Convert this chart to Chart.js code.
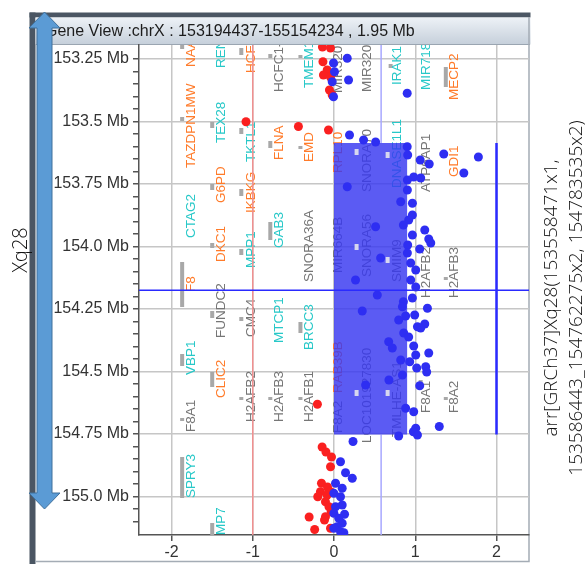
<!DOCTYPE html>
<html>
<head>
<meta charset="utf-8">
<script src="https://cdn.jsdelivr.net/npm/chart.js@4.4.1/dist/chart.umd.min.js"></script>
<style>
  body { margin: 0; background: #fff; }
  canvas { display: block; }
</style>
</head>
<body>
<canvas id="geneChart" width="587" height="564"></canvas>
<script>
// 点データ（赤）
const redX = [-1.083, -0.438, -0.068, -0.142, -0.043, -0.136, -0.084, -0.130, -0.043, -0.056, -0.022, -0.204,
  -0.146, -0.099, -0.031, -0.043, -0.154, -0.080, -0.167, -0.200, -0.084, -0.043, -0.105, -0.062, -0.105,
  -0.306, -0.238, -0.117, -0.043, -0.035];
const redY = [153.501, 153.520, 153.534, 153.202, 153.206, 153.261, 153.294, 153.314, 153.322, 153.374, 153.394, 154.631,
  154.802, 154.822, 154.842, 154.881, 154.947, 154.962, 154.981, 155.001, 154.994, 154.981, 155.021, 155.041, 155.081,
  155.082, 155.132, 155.094, 155.127, 155.061];

// 点データ（青）
const blueX = [0.163, -0.006, 0.006, 0.179, -0.006, -0.022, 0.901, 0.191, 0.364, 0.512, 0.901, 0.907, 1.061, 1.172,
  1.351, 1.777, 1.598, 0.981, 1.067, 0.903, 0.903, 0.163, 0.965, 0.821, 0.965, 0.919, 0.854, 0.512, 0.965, 1.117,
  1.166, 1.191, 0.907, 1.055, 0.903, 0.574, 0.944, 1.006, 0.265, 0.944, 1.006, 0.533, 0.965, 0.854, 0.842, 1.150,
  0.348, 0.882, 0.993, 0.796, 1.027, 1.117, 1.067, 0.858, 0.673, 0.919, 0.981, 0.718, 1.006, 1.166, 0.932, 1.018,
  1.129, 0.821, 1.141, 0.842, 0.676, 1.055, 0.389, 0.882, 0.981, 1.296, 1.006, 0.977, 1.027, 0.796, 0.234, 0.080,
  0.142, 0.225, 0.019, 0.101, -0.002, 0.080, 0.101, 0.019, -0.002, 0.130, 0.059, 0.101, 0.039, -0.002, 0.080, 0.121];
const blueY = [153.247, 153.266, 153.301, 153.334, 153.401, 153.341, 153.387, 153.554, 153.574, 153.582, 153.601, 153.634,
  153.654, 153.670, 153.630, 153.642, 153.706, 153.722, 153.726, 153.734, 153.774, 153.761, 153.827, 153.821, 153.874,
  153.894, 153.914, 153.921, 153.954, 153.934, 153.970, 153.986, 153.994, 154.010, 154.026, 154.046, 154.066, 154.094,
  154.134, 154.134, 154.162, 154.194, 154.206, 154.221, 154.241, 154.247, 154.258, 154.278, 154.274, 154.294, 154.321,
  154.310, 154.326, 154.346, 154.381, 154.362, 154.398, 154.406, 154.434, 154.426, 154.461, 154.486, 154.481, 154.454,
  154.502, 154.514, 154.534, 154.557, 154.554, 154.647, 154.661, 154.720, 154.727, 154.741, 154.754, 154.758, 154.780,
  154.861, 154.905, 154.927, 154.947, 154.967, 154.987, 155.001, 155.034, 155.041, 155.067, 155.071, 155.087, 155.107,
  155.121, 155.127, 155.141, 155.145];

// 遺伝子ラベル（名前・x・開始位置Mb・種類）
const geneNames = ['NAA10', 'TAZDPN1MW', 'CTAG2', 'F8', 'VBP1', 'F8A1', 'SPRY3',
  'RENBP', 'TEX28', 'G6PD', 'DKC1', 'FUNDC2', 'CLIC2', 'VAMP7',
  'HCFC1', 'TKTL1', 'IKBKG', 'MPP1', 'CMC4', 'H2AFB2',
  'HCFC1-AS1', 'FLNA', 'GAB3', 'MTCP1', 'H2AFB3',
  'TMEM187', 'EMD', 'SNORA36A', 'BRCC3', 'H2AFB1',
  'MIR3202', 'RPL10', 'MIR664B', 'RAB39B', 'F8A2',
  'MIR3202', 'SNORA70', 'SNORA56', 'LOC101927830',
  'IRAK1', 'DNASE1L1', 'SMIM9', 'TMLHE-AS1',
  'MIR718', 'ATP6AP1', 'H2AFB2', 'F8A1',
  'MECP2', 'GDI1', 'H2AFB3', 'F8A2'];
const geneX = [-1.76, -1.76, -1.76, -1.76, -1.76, -1.76, -1.76,
  -1.39, -1.39, -1.39, -1.39, -1.39, -1.39, -1.39,
  -1.02, -1.02, -1.02, -1.02, -1.02, -1.02,
  -0.67, -0.67, -0.67, -0.67, -0.67,
  -0.30, -0.30, -0.30, -0.30, -0.30,
  0.05, 0.05, 0.05, 0.05, 0.05,
  0.41, 0.41, 0.41, 0.41,
  0.78, 0.78, 0.78, 0.78,
  1.13, 1.13, 1.13, 1.13,
  1.48, 1.48, 1.48, 1.48];
const geneStart = [153.282, 153.686, 153.966, 154.182, 154.514, 154.742, 155.006,
  153.286, 153.586, 153.826, 154.062, 154.366, 154.606, 155.222,
  153.306, 153.662, 153.866, 154.086, 154.362, 154.702,
  153.382, 153.654, 154.006, 154.386, 154.702,
  153.366, 153.662, 154.142, 154.414, 154.702,
  153.386, 153.706, 154.106, 154.586, 154.746,
  153.382, 153.782, 154.122, 154.786,
  153.354, 153.766, 154.142, 154.762,
  153.374, 153.782, 154.206, 154.666,
  153.414, 153.722, 154.206, 154.666];
// o: オレンジ, c: シアン, g: グレー
const geneType = ['o', 'o', 'c', 'o', 'c', 'g', 'c',
  'c', 'c', 'o', 'o', 'g', 'o', 'c',
  'o', 'c', 'o', 'c', 'g', 'g',
  'g', 'o', 'c', 'c', 'g',
  'c', 'o', 'g', 'c', 'g',
  'g', 'o', 'g', 'o', 'g',
  'g', 'g', 'g', 'g',
  'c', 'c', 'g', 'g',
  'c', 'g', 'g', 'g',
  'o', 'o', 'g', 'g'];

// 遺伝子の位置マーカー（灰色の小さな棒）
const markerX = [-1.869, -1.869, -1.869, -1.499, -1.499, 1.376, -0.413, -0.784, -1.869, -1.141, -0.784, -0.413,
  -1.869, -1.499, -1.141, -0.784, -0.413, -1.499, -1.141, -1.499, -1.141, -1.499, -1.141, 0.697,
  -1.141, -0.784, -0.413, -1.869, 1.067, 1.376, 1.376];
const markerTop = [154.062, 154.842, 154.430, 154.502, 155.106, 153.282, 154.302, 153.902, 153.190, 153.206, 153.230, 153.234,
  153.482, 153.502, 153.526, 153.578, 153.598, 153.750, 153.770, 153.986, 154.010, 154.258, 154.282, 153.270,
  154.602, 154.602, 154.602, 154.686, 154.534, 154.602, 154.122];
const markerBottom = [154.242, 155.006, 154.478, 154.562, 155.154, 153.362, 154.346, 153.974, 153.210, 153.234, 153.246, 153.246,
  153.498, 153.526, 153.550, 153.606, 153.610, 153.774, 153.798, 154.006, 154.034, 154.286, 154.298, 153.286,
  154.614, 154.614, 154.614, 154.698, 154.546, 154.614, 154.134];

// 青い領域内の白いマーカー
const innerMarkX = [0.278, 0.660, 0.278, 0.660, 0.278, 0.660];
const innerMarkY = [153.622, 153.634, 154.002, 154.054, 154.586, 154.586];

// 目盛り
const xTickValues = [-2, -1, 0, 1, 2];
const xTickLabels = ['-2', '-1', '0', '1', '2'];

// 領域と線
const cnvX = [0, 0.9];
const cnvY = [153.586, 154.752];
const redLineX = -1;
const lightLineX = 0.58;
const blueLineY = 154.175;
const blueLineX = 2;

const xMin = -2.4, xMax = 2.4;
const yMin = 153.194, yMax = 155.154;

const geneColors = { o: '#ff7b2a', c: '#27c8c8', g: '#767676' };

function isQuarter(v) {
  return Math.abs(v * 4 - Math.round(v * 4)) < 1e-6;
}

// 遺伝子ラベルと領域を描くプラグイン
const genePlugin = {
  id: 'genes',
  beforeDatasetsDraw(chart) {
    const { ctx, chartArea: a, scales: { x, y } } = chart;
    const rx0 = x.getPixelForValue(cnvX[0]), rx1 = x.getPixelForValue(cnvX[1]);
    const ry0 = y.getPixelForValue(cnvY[0]), ry1 = y.getPixelForValue(cnvY[1]);
    ctx.save();
    ctx.beginPath();
    ctx.rect(a.left, a.top, a.right - a.left, a.bottom - a.top);
    ctx.clip();
    // 薄い青の縦線（領域の上下のみ）
    const lx = x.getPixelForValue(lightLineX);
    ctx.strokeStyle = '#a8a8ff';
    ctx.lineWidth = 1.5;
    ctx.beginPath();
    ctx.moveTo(lx, a.top);
    ctx.lineTo(lx, ry0);
    ctx.moveTo(lx, ry1);
    ctx.lineTo(lx, a.bottom);
    ctx.stroke();
    ctx.fillStyle = '#a8a8a8';
    markerX.forEach((v, i) => {
      const px = x.getPixelForValue(v);
      const t = y.getPixelForValue(markerTop[i]);
      const b = y.getPixelForValue(markerBottom[i]);
      ctx.fillRect(px - 2, t, 4, Math.max(b - t, 3));
    });
    ctx.font = '13.5px "Liberation Sans", Arial, sans-serif';
    ctx.textAlign = 'left';
    ctx.textBaseline = 'middle';
    geneNames.forEach((name, i) => {
      ctx.save();
      ctx.translate(x.getPixelForValue(geneX[i]), y.getPixelForValue(geneStart[i]));
      ctx.rotate(-Math.PI / 2);
      ctx.fillStyle = geneColors[geneType[i]];
      ctx.fillText(name, 0, 0);
      ctx.restore();
    });
    // コピー数変化の領域
    ctx.fillStyle = 'rgba(55,55,240,0.82)';
    ctx.fillRect(rx0, ry0, rx1 - rx0, ry1 - ry0);
    ctx.fillStyle = 'rgba(228,228,238,0.9)';
    innerMarkX.forEach((v, i) => {
      ctx.fillRect(x.getPixelForValue(v) - 2, y.getPixelForValue(innerMarkY[i]) - 3, 4, 6);
    });
    ctx.restore();
  }
};

// 枠・タイトル・矢印などの装飾
const framePlugin = {
  id: 'frame',
  beforeDraw(chart) {
    const { ctx, width, height } = chart;
    ctx.save();
    ctx.fillStyle = '#fff';
    ctx.fillRect(0, 0, width, height);
    // ウィンドウ枠
    ctx.fillStyle = '#4b5663';
    ctx.fillRect(29.5, 12.5, 6, 551.5);
    ctx.fillRect(29.5, 12.5, 501, 5);
    const g = ctx.createLinearGradient(0, 17, 0, 44);
    g.addColorStop(0, '#eef2f7');
    g.addColorStop(1, '#c6d0db');
    ctx.fillStyle = g;
    ctx.fillRect(35.5, 17.5, 495, 27);
    ctx.strokeStyle = '#9aa5b1';
    ctx.lineWidth = 1;
    ctx.beginPath();
    ctx.moveTo(35.5, 44.5);
    ctx.lineTo(530, 44.5);
    ctx.stroke();
    ctx.strokeStyle = '#a4acb5';
    ctx.lineWidth = 1.5;
    ctx.beginPath();
    ctx.moveTo(529, 17);
    ctx.lineTo(529, 561.5);
    ctx.lineTo(35, 561.5);
    ctx.stroke();
    ctx.fillStyle = '#1c1c1c';
    ctx.font = '16px "Liberation Sans", Arial, sans-serif';
    ctx.textAlign = 'left';
    ctx.textBaseline = 'middle';
    ctx.fillText('Gene View :chrX : 153194437-155154234 , 1.95 Mb', 45, 32);
    ctx.restore();
  },
  afterDraw(chart) {
    const { ctx } = chart;
    ctx.save();
    // 両矢印
    ctx.beginPath();
    ctx.moveTo(44.5, 12);
    ctx.lineTo(60, 28);
    ctx.lineTo(52, 28);
    ctx.lineTo(52, 493);
    ctx.lineTo(60, 493);
    ctx.lineTo(44.5, 509);
    ctx.lineTo(29, 493);
    ctx.lineTo(37, 493);
    ctx.lineTo(37, 28);
    ctx.lineTo(29, 28);
    ctx.closePath();
    ctx.fillStyle = '#5b9bd5';
    ctx.fill();
    ctx.strokeStyle = '#41719c';
    ctx.lineWidth = 1;
    ctx.stroke();
    ctx.fillStyle = '#111';
    ctx.textAlign = 'center';
    ctx.textBaseline = 'alphabetic';
    ctx.font = '300 20px "Open Sans", sans-serif';
    ctx.translate(27, 250);
    ctx.rotate(-Math.PI / 2);
    ctx.fillText('Xq28', 0, 0);
    ctx.setTransform(1, 0, 0, 1, 0, 0);
    ctx.font = '300 19px "Open Sans", sans-serif';
    ctx.translate(557, 298);
    ctx.rotate(-Math.PI / 2);
    ctx.fillText('arr[GRCh37]Xq28(153558471x1,', 0, 0);
    ctx.fillText('153586443_154762275x2, 154783535x2)', 0, 25);
    ctx.restore();
  }
};

const pts = (xs, ys) => xs.map((v, i) => ({ x: v, y: ys[i] }));
const vline = (xv, y0, y1) => [{ x: xv, y: y0 }, { x: xv, y: y1 }];

const chartContext = document.getElementById('geneChart').getContext('2d');
new Chart(chartContext, {
  type: 'scatter',
  data: {
    datasets: [
      { data: pts(blueX, blueY), backgroundColor: '#2e2ef2', pointRadius: 4.5, borderWidth: 0, order: 0 },
      { data: pts(redX, redY), backgroundColor: '#fa2020', pointRadius: 4.5, borderWidth: 0, order: 1 },
      {
        type: 'line', data: [{ x: xMin, y: blueLineY }, { x: xMax, y: blueLineY }],
        borderColor: '#2a2aff', borderWidth: 1.5, pointRadius: 0, order: 2
      },
      {
        type: 'line', data: vline(blueLineX, cnvY[0], cnvY[1]),
        borderColor: '#2a2aff', borderWidth: 2.5, pointRadius: 0, order: 3
      },
      {
        type: 'line', data: vline(redLineX, yMin, yMax),
        borderColor: '#f09090', borderWidth: 1.5, pointRadius: 0, order: 6
      }
    ]
  },
  options: {
    responsive: false,
    animation: false,
    devicePixelRatio: 1,
    events: [],
    layout: { padding: { top: 45, right: 58, bottom: 0, left: 0 } },
    plugins: { legend: { display: false }, tooltip: { enabled: false } },
    scales: {
      x: {
        type: 'linear', min: xMin, max: xMax,
        afterFit: s => { s.height = 29; },
        afterBuildTicks: s => { s.ticks = xTickValues.map(v => ({ value: v })); },
        ticks: {
          padding: 2, color: '#333', autoSkip: false, maxRotation: 0,
          font: { family: '"Liberation Sans", Arial, sans-serif', size: 16 },
          callback: (v, i) => xTickLabels[i]
        },
        grid: { color: '#c6c6c6', lineWidth: 1.5, tickColor: '#555', tickLength: 6 },
        border: { color: '#555', width: 1.5 }
      },
      y: {
        type: 'linear', reverse: true, min: yMin, max: yMax,
        afterFit: s => { s.width = 139; },
        afterBuildTicks: s => {
          s.ticks = s.ticks.filter(t => Math.abs(t.value * 20 - Math.round(t.value * 20)) < 1e-6);
        },
        ticks: {
          stepSize: 0.05, autoSkip: false, padding: 4, color: '#333',
          font: { family: '"Liberation Sans", Arial, sans-serif', size: 16 },
          callback: v => {
            if (!isQuarter(v)) return '';
            let s = v.toFixed(2);
            if (s.endsWith('0')) s = s.slice(0, -1);
            return s + ' Mb';
          }
        },
        grid: {
          color: c => (c.tick && isQuarter(c.tick.value) ? '#c6c6c6' : 'rgba(0,0,0,0)'),
          lineWidth: 1.5, tickColor: '#555', tickLength: 6
        },
        border: { color: '#555', width: 1.5 }
      }
    }
  },
  plugins: [framePlugin, genePlugin]
});
</script>
</body>
</html>
